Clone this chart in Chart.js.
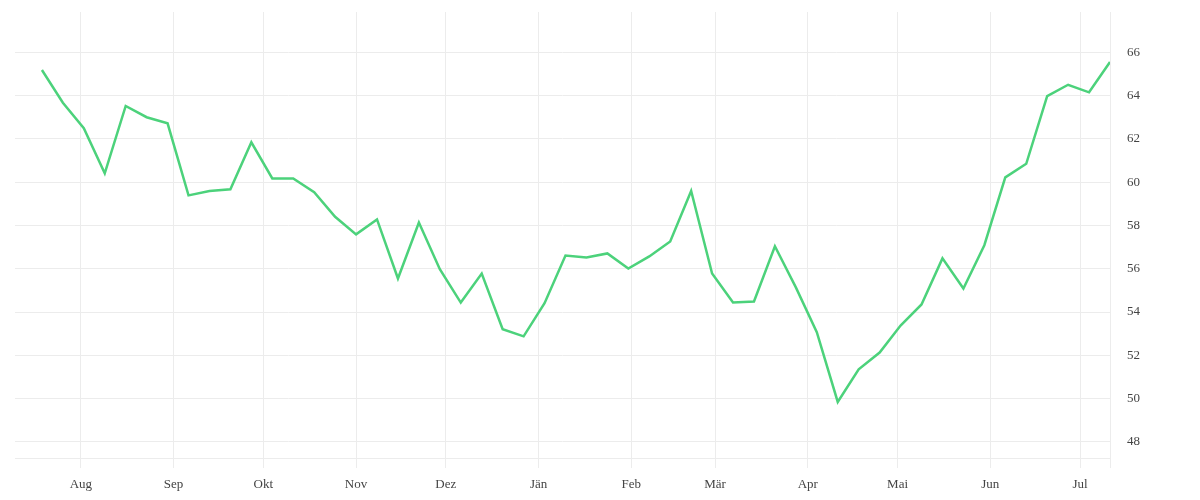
<!DOCTYPE html>
<html>
<head>
<meta charset="utf-8">
<script src="https://cdn.jsdelivr.net/npm/chart.js@4"></script>
<style>
  body { margin: 0; background: #fff; }
  #wrap { width: 1200px; height: 500px; }
</style>
</head>
<body>
<div id="wrap"><canvas id="lineChart" width="1200" height="500"></canvas></div>
<script>
// weekly readings
var weeks = [
  '2022-07-19', '2022-07-26', '2022-08-02', '2022-08-09', '2022-08-16', '2022-08-23', '2022-08-30',
  '2022-09-06', '2022-09-13', '2022-09-20', '2022-09-27', '2022-10-04', '2022-10-11', '2022-10-18',
  '2022-10-25', '2022-11-01', '2022-11-08', '2022-11-15', '2022-11-22', '2022-11-29', '2022-12-06',
  '2022-12-13', '2022-12-20', '2022-12-27', '2023-01-03', '2023-01-10', '2023-01-17', '2023-01-24',
  '2023-01-31', '2023-02-07', '2023-02-14', '2023-02-21', '2023-02-28', '2023-03-07', '2023-03-14',
  '2023-03-21', '2023-03-28', '2023-04-04', '2023-04-11', '2023-04-18', '2023-04-25', '2023-05-02',
  '2023-05-09', '2023-05-16', '2023-05-23', '2023-05-30', '2023-06-06', '2023-06-13', '2023-06-20',
  '2023-06-27', '2023-07-04', '2023-07-11'
];
var values = [
  65.18, 63.67, 62.49, 60.41, 63.52, 63.00, 62.72,
  59.39, 59.59, 59.67, 61.84, 60.17, 60.17, 59.54,
  58.40, 57.59, 58.28, 55.55, 58.14, 55.98, 54.44,
  55.78, 53.21, 52.88, 54.41, 56.61, 56.52, 56.71,
  56.01, 56.57, 57.26, 59.59, 55.78, 54.44, 54.49,
  57.04, 55.14, 53.07, 49.85, 51.36, 52.13, 53.38,
  54.35, 56.48, 55.09, 57.09, 60.22, 60.85, 63.97,
  64.50, 64.15, 65.55
];
var monthStarts = [
  '2022-08-01', '2022-09-01', '2022-10-01', '2022-11-01', '2022-12-01', '2023-01-01',
  '2023-02-01', '2023-03-01', '2023-04-01', '2023-05-01', '2023-06-01', '2023-07-01'
];
var monthLabels = ['Aug', 'Sep', 'Okt', 'Nov', 'Dez', 'Jän', 'Feb', 'Mär', 'Apr', 'Mai', 'Jun', 'Jul'];
var yTicks = [48, 50, 52, 54, 56, 58, 60, 62, 64, 66];
var xStart = '2022-07-10';
var xEnd = '2023-07-11';

// days since 1 Aug 2022
function dayNum(s) {
  var p = s.split('-');
  return (Date.UTC(+p[0], +p[1] - 1, +p[2]) - Date.UTC(2022, 7, 1)) / 86400000;
}

var points = weeks.map(function (d, i) { return { x: dayNum(d), y: values[i] }; });
var monthDays = monthStarts.map(dayNum);
var xMin = dayNum(xStart);
var xMax = dayNum(xEnd);

var gridColor = '#ececec';
var tickFont = { family: '"Liberation Serif", serif', size: 13 };

var ctx = document.getElementById('lineChart').getContext('2d');
var lineChart = new Chart(ctx, {
    type: 'line',
    data: {
        datasets: [{
            data: points,
            borderColor: '#4cd27b',
            borderWidth: 2.5,
            pointRadius: 0,
            tension: 0,
            fill: false
        }]
    },
    options: {
        responsive: false,
        animation: false,
        layout: { padding: { left: 15, top: 12, right: 0, bottom: 0 } },
        plugins: {
            legend: { display: false },
            tooltip: { enabled: false }
        },
        scales: {
            x: {
                type: 'linear',
                min: xMin,
                max: xMax,
                afterBuildTicks: function (scale) {
                    scale.ticks = monthDays.map(function (v) { return { value: v }; })
                        .concat([{ value: xMax }]);
                },
                afterFit: function (scale) { scale.height = 42; },
                ticks: {
                    autoSkip: false,
                    maxRotation: 0,
                    padding: 9,
                    color: '#444',
                    font: tickFont,
                    callback: function (v, i) { return monthLabels[i] || ''; }
                },
                grid: { color: gridColor, tickLength: 10 },
                border: { display: true, color: gridColor }
            },
            y: {
                position: 'right',
                min: 47.26,
                max: 67.86,
                afterBuildTicks: function (scale) {
                    scale.ticks = yTicks.map(function (v) { return { value: v }; });
                },
                afterFit: function (scale) {
                    scale.width = 90;
                    scale.paddingTop = 0;
                },
                ticks: {
                    padding: 17,
                    color: '#444',
                    font: tickFont
                },
                grid: { color: gridColor, drawTicks: false },
                border: { display: false }
            }
        }
    }
});
</script>
</body>
</html>
